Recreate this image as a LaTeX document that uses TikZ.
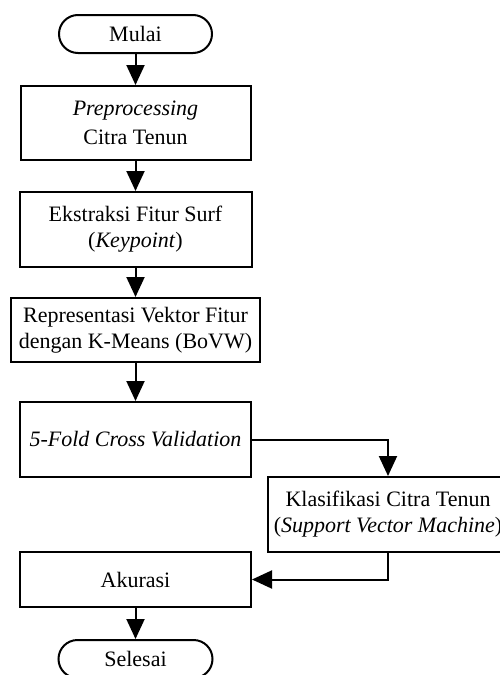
\documentclass[tikz,border=0pt]{standalone}
\usepackage{fontspec}
\setmainfont{Liberation Serif}
\usetikzlibrary{arrows.meta}
\begin{document}
\begin{tikzpicture}[x=1pt,y=-1pt,
  every node/.style={font=\fontsize{22}{26}\selectfont, align=center, inner sep=0pt, line width=2pt},
  procbox/.style={draw, rectangle, minimum width=#1},
  termbox/.style={draw, rectangle, rounded corners=19pt, minimum width=153pt, minimum height=38pt},
  arr/.style={line width=2pt, -{Triangle[length=20pt,width=18pt]}}
]
\useasboundingbox (0,0) rectangle (500,675);
\node[termbox] (mulai) at (135.5,34) {Mulai};
\node[procbox=230pt, minimum height=74pt] (pre) at (135.5,123) {\textit{Preprocessing}\\[3pt]Citra Tenun};
\node[procbox=232pt, minimum height=75pt] (eks) at (135.5,229.5) {Ekstraksi Fitur Surf\\(\textit{Keypoint})};
\node[procbox=249pt, minimum height=64pt] (rep) at (135.5,330) {Representasi Vektor Fitur\\dengan K-Means (BoVW)};
\node[procbox=231pt, minimum height=75pt] (fold) at (135.5,439.5) {\textit{5-Fold Cross Validation}};
\node[procbox=240pt, minimum height=75pt] (klas) at (388,514.5) {Klasifikasi Citra Tenun\\(\textit{Support Vector Machine})};
\node[procbox=231pt, minimum height=55pt] (akur) at (135.5,579.5) {Akurasi};
\node[termbox, minimum width=154pt] (sel) at (135.5,659) {Selesai};
\draw[arr] (mulai) -- (pre);
\draw[arr] (pre) -- (eks);
\draw[arr] (eks) -- (rep);
\draw[arr] (rep) -- (fold);
\draw[arr] (fold.east) -| (klas.north);
\draw[arr] (klas.south) |- (akur.east);
\draw[arr] (akur) -- (sel);
\end{tikzpicture}
\end{document}
